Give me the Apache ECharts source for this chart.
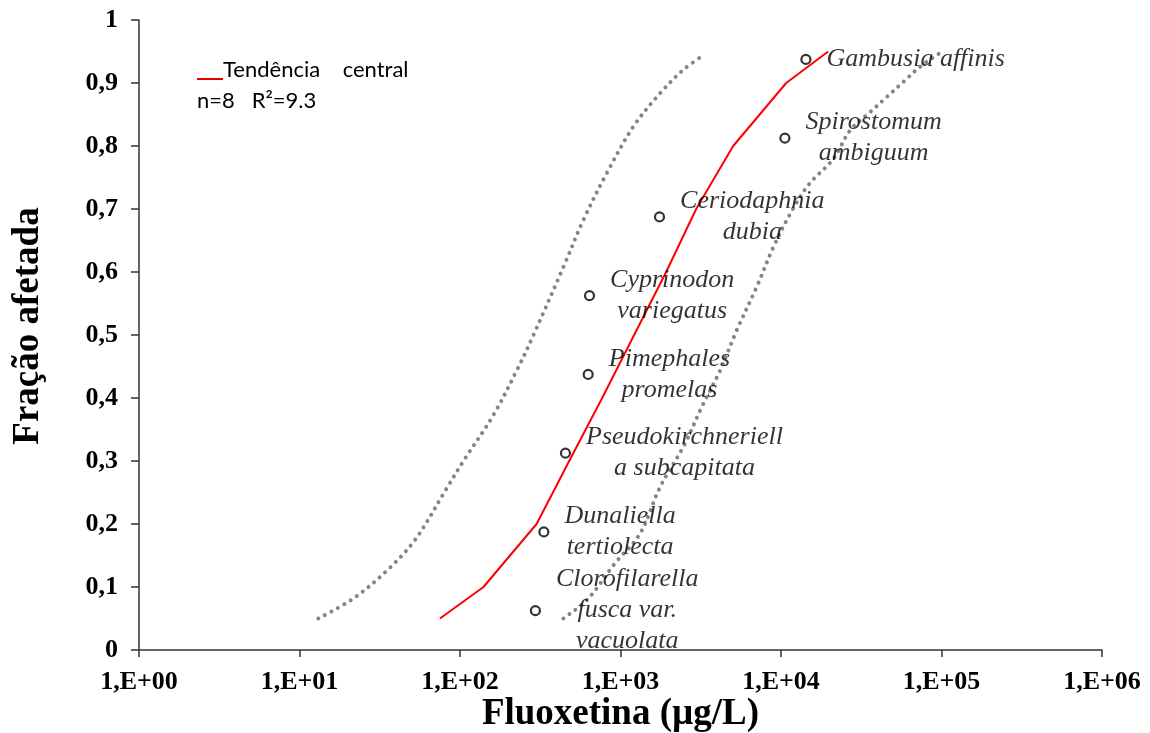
<!DOCTYPE html>
<html>
<head>
<meta charset="utf-8">
<script src="https://cdn.jsdelivr.net/npm/echarts@6/dist/echarts.min.js"></script>
<style>
html,body{margin:0;padding:0;background:#fff;}
#chart{width:1150px;height:733px;}
</style>
</head>
<body>
<div id="chart"></div>
<script>
// ---- data ----
const xTickLabels = ['1,E+00','1,E+01','1,E+02','1,E+03','1,E+04','1,E+05','1,E+06'];
const yTickLabels = ['0','0,1','0,2','0,3','0,4','0,5','0,6','0,7','0,8','0,9','1'];

const speciesNames = [
  'Clorofilarella\nfusca var.\nvacuolata',
  'Dunaliella\ntertiolecta',
  'Pseudokirchneriell\na subcapitata',
  'Pimephales\npromelas',
  'Cyprinodon\nvariegatus',
  'Ceriodaphnia\ndubia',
  'Spirostomum\nambiguum',
  'Gambusia affinis'
];
const speciesConc = [295, 333, 454, 629, 641, 1750, 10570, 14290];
const speciesFraction = [0.0625, 0.1875, 0.3125, 0.4375, 0.5625, 0.6875, 0.8125, 0.9375];

const trendConc = [75, 140, 300, 479, 769, 1216, 1925, 2961, 5035, 10770, 19680];
const trendFraction = [0.05, 0.1, 0.2, 0.3, 0.4, 0.5, 0.6, 0.7, 0.8, 0.9, 0.95];

const lowerConc = [13.1, 21.7, 35.0, 52.5, 82.8, 104.5, 161.5, 226, 287, 441, 588, 822, 1205, 1767, 2467, 3287];
const lowerFraction = [0.05, 0.082, 0.126, 0.175, 0.257, 0.299, 0.373, 0.444, 0.50, 0.608, 0.683, 0.757, 0.831, 0.884, 0.921, 0.944];

const upperConc = [441, 631, 926, 1326, 1767, 2467, 3213, 4178, 5309, 7074, 8985, 11450, 14800, 21230, 26980, 35970, 45700, 57990, 73740, 98200];
const upperFraction = [0.05, 0.082, 0.138, 0.185, 0.259, 0.323, 0.386, 0.444, 0.508, 0.577, 0.640, 0.693, 0.738, 0.780, 0.825, 0.854, 0.878, 0.902, 0.926, 0.948];

const legendTitle = 'Tendência    central';
const legendStats = 'n=8   R²=9.3';

// ---- build ----
const zip = (xs, ys) => xs.map((x, i) => [x, ys[i]]);
const labelFontSize = 26;
const labelFamily = '"Liberation Serif", "Times New Roman", serif';
const measureCtx = document.createElement('canvas').getContext('2d');
measureCtx.font = 'italic ' + labelFontSize + 'px ' + labelFamily;
const blockWidth = s => Math.max.apply(null, s.split('\n').map(l => measureCtx.measureText(l).width));

const speciesData = speciesNames.map((n, i) => ({
  name: n,
  value: [speciesConc[i], speciesFraction[i]],
  label: { offset: [blockWidth(n) / 2, 0] }
}));

const chart = echarts.init(document.getElementById('chart'), null, { renderer: 'canvas' });
const axisFont = { fontFamily: labelFamily, fontWeight: 'bold', color: '#000' };
const dotStyle = { color: '#858585', width: 4, type: [0.01, 7.4], cap: 'round', join: 'round' };

chart.setOption({
  animation: false,
  backgroundColor: '#fff',
  grid: { left: 139, right: 48, top: 20, bottom: 83, containLabel: false, outerBoundsMode: 'none' },
  xAxis: {
    type: 'log', logBase: 10, min: 1, max: 1e6,
    name: 'Fluoxetina (µg/L)', nameLocation: 'middle', nameGap: 46, nameMoveOverlap: false,
    nameTextStyle: Object.assign({ fontSize: 37 }, axisFont),
    axisLine: { lineStyle: { color: '#333', width: 1.5 } },
    axisTick: { show: true, length: 7, lineStyle: { color: '#333', width: 1.5 } },
    minorTick: { show: false },
    splitLine: { show: false },
    axisLabel: Object.assign({
      fontSize: 26, margin: 19,
      formatter: v => xTickLabels[Math.round(Math.log10(v))]
    }, axisFont)
  },
  yAxis: {
    type: 'value', min: 0, max: 1, interval: 0.1,
    name: 'Fração afetada', nameLocation: 'middle', nameGap: 92, nameRotate: 90, nameMoveOverlap: false,
    nameTextStyle: Object.assign({ fontSize: 37, padding: [0, 0, 0, 18] }, axisFont),
    axisLine: { show: true, lineStyle: { color: '#333', width: 1.5 } },
    axisTick: { show: true, length: 8, lineStyle: { color: '#333', width: 1.5 } },
    splitLine: { show: false },
    axisLabel: Object.assign({
      fontSize: 26, margin: 21,
      formatter: v => yTickLabels[Math.round(v * 10)]
    }, axisFont)
  },
  series: [
    { type: 'line', data: zip(lowerConc, lowerFraction), smooth: 0.35, showSymbol: false, silent: true, lineStyle: dotStyle },
    { type: 'line', data: zip(upperConc, upperFraction), smooth: 0.35, showSymbol: false, silent: true, lineStyle: dotStyle },
    {
      type: 'line', data: zip(trendConc, trendFraction), smooth: false, showSymbol: false, silent: true,
      lineStyle: { color: '#ff0000', width: 2 }
    },
    {
      type: 'scatter', data: speciesData, symbol: 'circle', symbolSize: 9, silent: true,
      itemStyle: { color: '#fff', borderColor: '#000', borderWidth: 2.2 },
      label: {
        show: true, position: 'right', distance: 15, align: 'center', verticalAlign: 'middle',
        formatter: p => p.name,
        fontFamily: labelFamily, fontStyle: 'italic', fontSize: labelFontSize,
        lineHeight: 31, color: '#000'
      },
      z: 5
    }
  ],
  graphic: [
    { type: 'line', shape: { x1: 197, y1: 79, x2: 223, y2: 79 }, style: { stroke: '#e00000', lineWidth: 2 }, silent: true },
    { type: 'text', x: 223, y: 70, style: { text: legendTitle, font: '22px Lato, "Open Sans", sans-serif', fill: '#000', verticalAlign: 'middle', align: 'left' }, silent: true },
    { type: 'text', x: 197, y: 101, style: { text: legendStats, font: '22px Lato, "Open Sans", sans-serif', fill: '#000', verticalAlign: 'middle', align: 'left' }, silent: true }
  ]
});
</script>
</body>
</html>
